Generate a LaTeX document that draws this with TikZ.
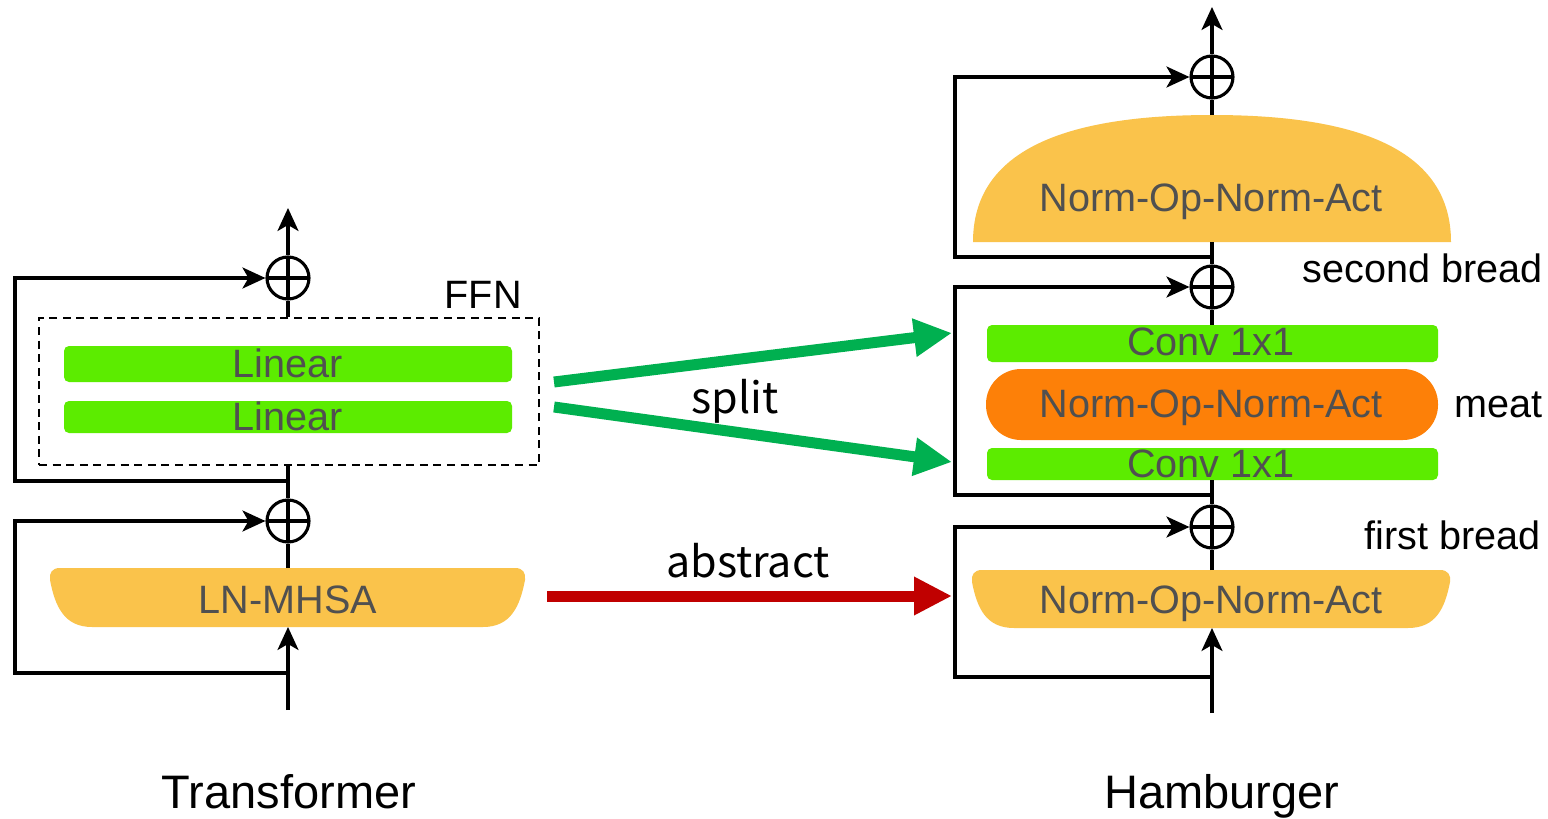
\documentclass[tikz,border=0pt]{standalone}
\usepackage{fontspec}
\setmainfont{Liberation Sans}
\newfontfamily\labelfont{Noto Sans CJK SC}
\usetikzlibrary{arrows.meta}

\definecolor{barGreen}{RGB}{92,236,0}
\definecolor{bunYellow}{RGB}{250,195,75}
\definecolor{meatOrange}{RGB}{253,128,8}
\definecolor{arrowGreen}{RGB}{0,176,80}
\definecolor{arrowRed}{RGB}{192,0,0}
\definecolor{inkGray}{RGB}{80,80,80}

% lower bun: left x, right x, top y, bottom y
\newcommand{\lowbun}[4]{%
  \fill[bunYellow] ({#1+10},#3) -- ({#2-10},#3)
    .. controls ({#2-2},#3) and ({#2+1},{#3+5}) .. (#2,{#3+12})
    .. controls ({#2-5},{#3+38}) and ({#2-14},#4) .. ({#2-42},#4)
    -- ({#1+42},#4)
    .. controls ({#1+14},#4) and ({#1+5},{#3+38}) .. (#1,{#3+12})
    .. controls ({#1-1},{#3+5}) and ({#1+2},#3) .. ({#1+10},#3) -- cycle;}

\begin{document}
\begin{tikzpicture}[x=0.5pt,y=-0.5pt,
  flow/.style={line width=1.55pt, black},
  tip/.style={-{Stealth[length=11.5pt,width=10.5pt,inset=3pt]}},
  oplus/.style={circle, draw, line width=1.55pt, minimum size=21pt, inner sep=0pt,
    path picture={\draw[line width=1.55pt]
      (path picture bounding box.north) -- (path picture bounding box.south)
      (path picture bounding box.west) -- (path picture bounding box.east);}},
  bar/.style={fill=barGreen, rounded corners=2.5pt, inner sep=0pt, minimum width=224pt},
  meatbox/.style={fill=meatOrange, rounded corners=17.5pt, inner sep=0pt},
  inlbl/.style={text=inkGray, font=\fontsize{19.8}{23}\selectfont, anchor=base, inner sep=0pt},
  sidelbl/.style={text=black, font=\fontsize{19.8}{23}\selectfont, inner sep=0pt},
  titlelbl/.style={text=black, font=\fontsize{23.5}{28}\selectfont, anchor=base, inner sep=0pt},
  notelbl/.style={text=black, font=\labelfont\fontsize{21.5}{26}\selectfont, anchor=base, inner sep=0pt},
  bigarrow/.style={line width=5.5pt, -{Triangle[length=19pt,width=18pt]}},
]
\useasboundingbox (0,0) rectangle (1548,819);
\fill[white] (0,0) rectangle (1548,819);

% ---------------- Transformer block ----------------
\lowbun{50}{525}{568}{627}
\node[inlbl] (mhsa) at (288,613) {LN-MHSA};
\coordinate (mhsaTop) at (288,568);
\coordinate (mhsaBot) at (288,627);

\node[draw, dash pattern=on 4pt off 2.8pt, line width=1pt, inner sep=0pt,
      minimum width=250pt, minimum height=73.5pt] (ffn) at (289,391.5) {};
\node[bar, minimum height=18pt] (lin1) at (288,364) {};
\node[bar, minimum height=16pt] (lin2) at (288,417) {};
\node[inlbl] (lin1t) at (288,377) {Linear};
\node[inlbl] (lin2t) at (288,430) {Linear};
\node[sidelbl, anchor=base east] (ffnlbl) at (522,308) {FFN};

\node[oplus] (opL1) at (288,521) {};
\node[oplus] (opL2) at (288,278) {};

\coordinate (inL) at (288,710);
\coordinate (outL) at (288,208);
\coordinate (jL1) at (288,673);
\coordinate (jL2) at (288,481);
\coordinate (cL1) at (15,673);
\coordinate (cL2) at (15,481);

\draw[flow, tip] (inL) -- (mhsaBot);
\draw[flow] (mhsaTop) -- (opL1.south);
\draw[flow] (opL1.north) -- (opL1.north |- ffn.south);
\draw[flow] (opL2.south |- ffn.north) -- (opL2.south);
\draw[flow, tip] (opL2.north) -- (outL);
\draw[flow, tip] (jL1) -- (cL1) |- (opL1.west);
\draw[flow, tip] (jL2) -- (cL2) |- (opL2.west);

\node[titlelbl] (tTitle) at (289,808) {Transformer};

% ---------------- Hamburger block ----------------
\lowbun{972}{1450}{570}{628}
\node[inlbl] (bunB) at (1211,613) {Norm-Op-Norm-Act};
\coordinate (bunBTop) at (1212,570);
\coordinate (bunBBot) at (1212,628);

\node[bar, minimum width=225.5pt, minimum height=18.5pt] (conv1) at (1212.5,343.5) {};
\node[meatbox, minimum width=226pt, minimum height=35.5pt] (meat) at (1212,404.5) {};
\node[bar, minimum width=225.5pt, minimum height=16pt] (conv2) at (1212.5,464) {};
\node[inlbl] (conv1t) at (1211,355) {Conv 1x1};
\node[inlbl] (meatt) at (1211,417) {Norm-Op-Norm-Act};
\node[inlbl] (conv2t) at (1211,477) {Conv 1x1};

\fill[bunYellow] (973,242) .. controls (973,150) and (1065,115) .. (1212,115)
  .. controls (1359,115) and (1451,150) .. (1451,242) -- cycle;
\node[inlbl] (bunT) at (1211,211) {Norm-Op-Norm-Act};
\coordinate (bunTTop) at (1212,115);
\coordinate (bunTBot) at (1212,242);

\node[oplus] (opR1) at (1212,527) {};
\node[oplus] (opR2) at (1212,287) {};
\node[oplus] (opR3) at (1212,77) {};

\coordinate (inR) at (1212,713);
\coordinate (outR) at (1212,7);
\coordinate (jR1) at (1212,677);
\coordinate (jR2) at (1212,495);
\coordinate (jR3) at (1212,257);
\coordinate (cR1) at (955,677);
\coordinate (cR2) at (955,495);
\coordinate (cR3) at (955,257);

\draw[flow, tip] (inR) -- (bunBBot);
\draw[flow] (bunBTop) -- (opR1.south);
\draw[flow] (opR1.north) -- (opR1.north |- conv2.south);
\draw[flow] (opR2.south |- conv1.north) -- (opR2.south);
\draw[flow] (opR2.north) -- (bunTBot);
\draw[flow] (bunTTop) -- (opR3.south);
\draw[flow, tip] (opR3.north) -- (outR);
\draw[flow, tip] (jR1) -- (cR1) |- (opR1.west);
\draw[flow, tip] (jR2) -- (cR2) |- (opR2.west);
\draw[flow, tip] (jR3) -- (cR3) |- (opR3.west);

\node[sidelbl, anchor=base west] (second) at (1302,282) {second bread};
\node[sidelbl, anchor=base west] (meatlbl) at (1454,417) {meat};
\node[sidelbl, anchor=base west] (first) at (1364,549) {first bread};
\node[titlelbl] (hTitle) at (1222,808) {Hamburger};

% ---------------- mapping arrows ----------------
\coordinate (sp1s) at (554,382);
\coordinate (sp1e) at (952,333);
\coordinate (sp2s) at (554,407);
\coordinate (sp2e) at (952,462);
\coordinate (abs) at (547,596);
\coordinate (abe) at (952,596);
\draw[bigarrow, arrowGreen] (sp1s) -- (sp1e);
\draw[bigarrow, arrowGreen] (sp2s) -- (sp2e);
\draw[bigarrow, arrowRed] (abs) -- (abe);
\node[notelbl] (split) at (735,413) {split};
\node[notelbl] (abstract) at (748,577) {abstract};
\end{tikzpicture}
\end{document}
